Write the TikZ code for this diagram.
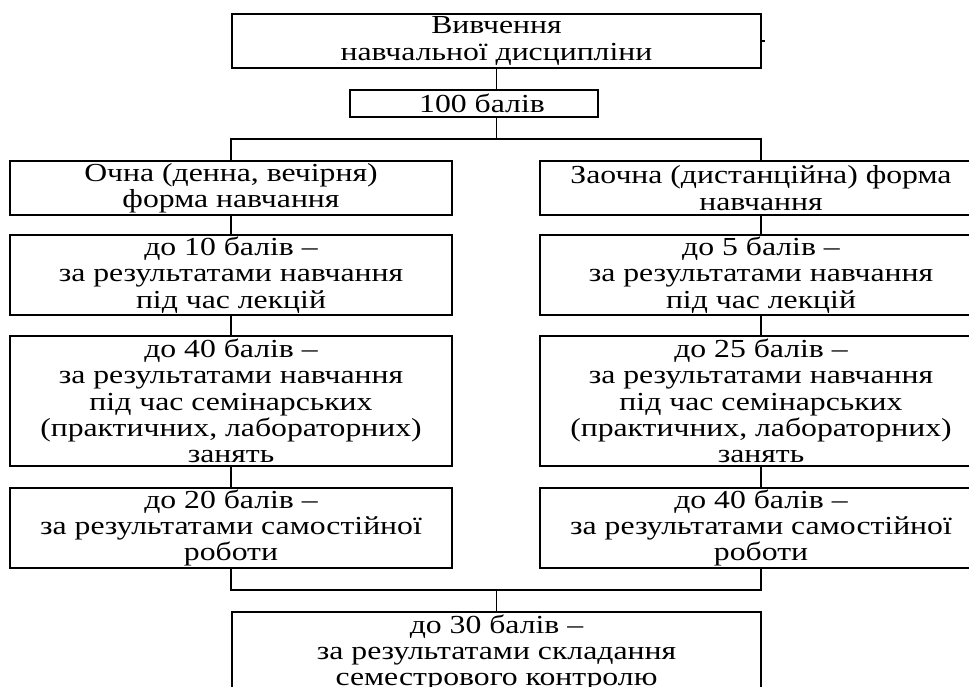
\documentclass[tikz,border=0pt]{standalone}
\usepackage{fontspec}
\setmainfont[FakeStretch=1.22]{Liberation Serif}
\usepackage{xcolor}

\tikzset{
  blok/.style={draw, line width=0.9pt, align=center, inner sep=0pt,
    font=\fontsize{13}{13.2}\selectfont},
  shyr/.style={minimum width=221pt},
  zv/.style={line width=0.9pt},
}

\begin{document}
\begin{tikzpicture}[x=0.5pt,y=-0.5pt]
\useasboundingbox (0,0) rectangle (969,686);
\clip (0,0) rectangle (969,686);

\node[blok, minimum width=264.5pt, minimum height=27pt] (vyvch) at (496.5,41) {Вивчення\\навчальної дисципліни};
\node[blok, minimum width=124pt, minimum height=13.5pt] (baly) at (474,103.5) {\hspace*{8pt}100 балів};

\node[blok, shyr, minimum height=27pt] (ochna) at (231,188) {Очна (денна, вечірня)\\форма навчання};
\node[blok, shyr, minimum height=40pt] (o10) at (231,275) {до 10 балів --\\за результатами навчання\\під час лекцій};
\node[blok, shyr, minimum height=65pt] (o40) at (231,401) {до 40 балів --\\за результатами навчання\\під час семінарських\\(практичних, лабораторних)\\занять};
\node[blok, shyr, minimum height=40pt] (o20) at (231,528) {до 20 балів --\\за результатами самостійної\\роботи};

\node[blok, shyr, minimum height=27pt] (zaochna) at (761,188) {Заочна (дистанційна) форма\\навчання};
\node[blok, shyr, minimum height=40pt] (z5) at (761,275) {до 5 балів --\\за результатами навчання\\під час лекцій};
\node[blok, shyr, minimum height=65pt] (z25) at (761,401) {до 25 балів --\\за результатами навчання\\під час семінарських\\(практичних, лабораторних)\\занять};
\node[blok, shyr, minimum height=40pt] (z40) at (761,528) {до 40 балів --\\за результатами самостійної\\роботи};

\node[blok, minimum width=264.5pt, minimum height=41pt] (sem) at (496.5,653) {до 30 балів --\\за результатами складання\\семестрового контролю};

\coordinate (tik) at (765,41);
\coordinate (rozg) at (496.5,139);
\coordinate (zbir) at (496.5,590);

\draw[zv] (vyvch.east) -- (tik);
\draw[zv] (vyvch.south) -- (vyvch.south |- baly.north);
\draw[zv] (vyvch.south |- baly.south) -- (rozg);
\draw[zv] (ochna.north) |- (rozg) -| (zaochna.north);

\draw[zv] (ochna.south) -- (o10.north);
\draw[zv] (o10.south) -- (o40.north);
\draw[zv] (o40.south) -- (o20.north);
\draw[zv] (zaochna.south) -- (z5.north);
\draw[zv] (z5.south) -- (z25.north);
\draw[zv] (z25.south) -- (z40.north);

\draw[zv] (o20.south) |- (zbir) -| (z40.south);
\draw[zv] (zbir) -- (sem.north);

\end{tikzpicture}
\end{document}
